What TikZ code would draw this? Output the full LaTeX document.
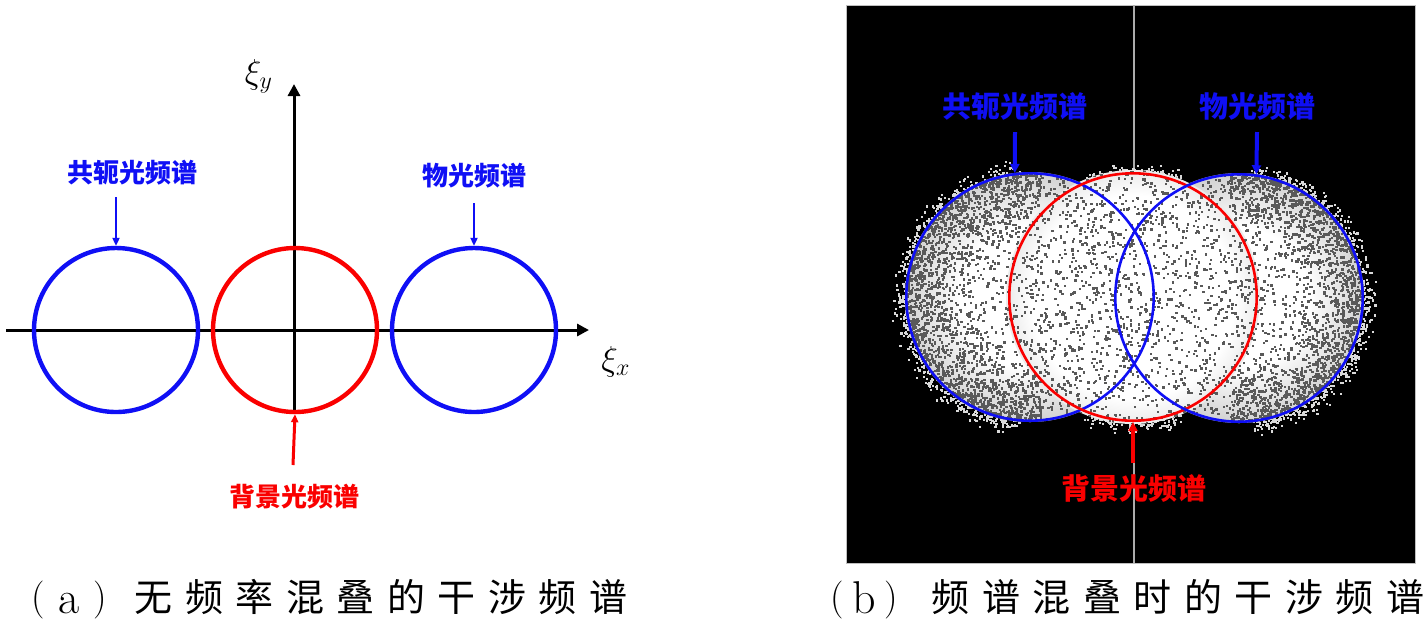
\documentclass[tikz,border=0pt]{standalone}
\usepackage{fontspec}
\newfontfamily\cjk{Noto Sans CJK SC}
\usetikzlibrary{arrows.meta}
\definecolor{myblue}{RGB}{15,15,245}
\definecolor{myred}{RGB}{250,0,0}
\pgfdeclareradialshading{specks}{\pgfpoint{0bp}{0bp}}{color(0bp)=(white); color(14bp)=(white); color(25bp)=(white!82!black); color(50bp)=(white!82!black)}
\pgfdeclareradialshading{speckc}{\pgfpoint{0bp}{0bp}}{color(0bp)=(white); color(20bp)=(white); color(25bp)=(white!92!black); color(50bp)=(white!92!black)}
\newcommand\spcx[1]{\ifx#1\relax\else\makebox[25.25pt]{#1}\expandafter\spcx\fi}
\tikzset{
  axisline/.style={line width=1.5pt, -{Triangle[length=6pt,width=6pt]}},
  lring/.style={circle, draw=#1, line width=2.2pt, minimum size=82pt, inner sep=0pt},
  rring/.style={circle, draw=#1, line width=1.3pt, minimum size=123.7pt, inner sep=0pt},
  larr/.style={draw=#1, line width=1.1pt, -{Triangle[length=4pt,width=3.5pt]}},
  rarr/.style={draw=#1, line width=2pt, -{Triangle[length=4.5pt,width=4.5pt]}},
  llab/.style={text=#1, font=\cjk\bfseries\fontsize{13pt}{14pt}\selectfont, inner sep=0pt},
  rlab/.style={text=#1, font=\cjk\bfseries\fontsize{14.5pt}{15pt}\selectfont, inner sep=0pt},
  captxt/.style={font=\cjk\fontsize{19pt}{20pt}\selectfont, inner sep=0pt},
  capltr/.style={font=\fontsize{19pt}{21pt}\selectfont, inner sep=0pt},
  capab/.style={font=\fontsize{23pt}{25pt}\selectfont, inner sep=0pt},
  xil/.style={font=\fontsize{18pt}{20pt}\selectfont, inner sep=0pt},
  speck/.style={fill=black!65},
  halo/.style={fill=white!85!black},
}
\begin{document}
\begin{tikzpicture}[x=0.5pt,y=-0.5pt]
\useasboundingbox (0,0) rectangle (1425,629);
\fill[white] (0,0) rectangle (1425,629);

% ---------- left panel ----------
\coordinate (xl) at (6,330);
\coordinate (xr) at (589,330);
\coordinate (yb) at (294,414);
\coordinate (yt) at (294,84);
\draw[axisline] (xl) -- (xr);
\draw[axisline] (yb) -- (yt);
\node[lring=myblue] (lc1) at (116,330) {};
\node[lring=myred] (lc2) at (295,330) {};
\node[lring=myblue] (lc3) at (474,330) {};
\node[llab=myblue] (ll1) at (133,173) {共轭光频谱};
\node[llab=myblue] (ll3) at (474,176) {物光频谱};
\node[llab=myred] (ll2) at (294,497) {背景光频谱};
\coordinate (la1) at (116,197);
\coordinate (la3) at (474,203);
\coordinate (la2) at (293,465);
\draw[larr=myblue] (la1) -- (lc1.north);
\draw[larr=myblue] (la3) -- (lc3.north);
\draw[larr=myred, line width=1.5pt] (la2) -- (lc2.south);
\node[xil] (xiy) at (259,76) {$\xi_y$};
\node[xil] (xix) at (616,362) {$\xi_x$};

% ---------- right panel ----------
\fill[black, draw=gray!50, line width=0.5pt] (846,5) rectangle (1415,563);
\coordinate (vt) at (1134,5);
\coordinate (vb) at (1134,563);
\draw[gray!65, line width=0.8pt] (vt) -- (vb);

\pgfmathsetseed{3}
% fuzzy halo outside the spectra
\foreach \i in {1,...,750}{
  \pgfmathsetmacro\ang{95+170*rnd}
  \pgfmathsetmacro\rad{121+19*rnd*rnd}
  \fill[halo] ({1030+\rad*cos(\ang)},{297+\rad*sin(\ang)}) rectangle ++(2.2,2.2);
}
\foreach \i in {1,...,750}{
  \pgfmathsetmacro\ang{-85+170*rnd}
  \pgfmathsetmacro\rad{121+19*rnd*rnd}
  \fill[halo] ({1239+\rad*cos(\ang)},{298+\rad*sin(\ang)}) rectangle ++(2.2,2.2);
}
\foreach \i in {1,...,280}{
  \pgfmathsetmacro\ang{(rnd<0.5 ? 68+44*rnd : 248+44*rnd)}
  \pgfmathsetmacro\rad{123+15*rnd*rnd}
  \fill[halo] ({1133+\rad*cos(\ang)},{297+\rad*sin(\ang)}) rectangle ++(2.2,2.2);
}

\begin{scope}
  \clip (1030,297) circle[radius=62.5pt] (1133,297) circle[radius=63.5pt] (1239,298) circle[radius=62.5pt];
  \shade[shading=specks] (1030,297) circle[radius=62.5pt];
  \shade[shading=specks] (1239,298) circle[radius=62.5pt];
  \shade[shading=speckc] (1133,297) circle[radius=63.5pt];
  % uniform speckle
  \foreach \i in {1,...,3300}{
    \pgfmathsetmacro\px{900+470*rnd}
    \pgfmathsetmacro\py{168+262*rnd}
    \fill[speck] (\px,\py) rectangle ++(2.4,2.4);
  }
  % denser speckle towards the outer rims
  \foreach \i in {1,...,1600}{
    \pgfmathsetmacro\ang{85+190*rnd}
    \pgfmathsetmacro\rad{126*(1-0.55*rnd*rnd)}
    \fill[speck] ({1030+\rad*cos(\ang)},{297+\rad*sin(\ang)}) rectangle ++(2.4,2.4);
  }
  \foreach \i in {1,...,1600}{
    \pgfmathsetmacro\ang{-95+190*rnd}
    \pgfmathsetmacro\rad{126*(1-0.55*rnd*rnd)}
    \fill[speck] ({1239+\rad*cos(\ang)},{298+\rad*sin(\ang)}) rectangle ++(2.4,2.4);
  }
\end{scope}

\node[rring=myblue] (rc1) at (1030,297) {};
\node[rring=myred] (rc2) at (1133,297) {};
\node[rring=myblue] (rc3) at (1239,298) {};
\node[rlab=myblue] (rl1) at (1015,106) {共轭光频谱};
\node[rlab=myblue] (rl3) at (1257,106) {物光频谱};
\node[rlab=myred] (rl2) at (1134,488) {背景光频谱};
\coordinate (ra1) at (1015,132);
\coordinate (ra3) at (1257,132);
\coordinate (ra2) at (1133,463);
\draw[rarr=myblue] (ra1) -- (rc1.97);
\draw[rarr=myblue] (ra3) -- (rc3.82);
\draw[rarr=myred] (ra2) -- (rc2.south);

% ---------- captions ----------
\node[capltr, anchor=base] (ca1) at (38,609) {(};
\node[capab, anchor=base] (ca2) at (69,613) {a};
\node[capltr, anchor=base] (ca3) at (100,609) {)};
\node[captxt, anchor=base west] (ca4) at (128,611) {\spcx 无频率混叠的干涉频谱\relax};
\node[capltr, anchor=base] (cb1) at (837,609) {(};
\node[capab, anchor=base] (cb2) at (864,613) {b};
\node[capltr, anchor=base] (cb3) at (891,609) {)};
\node[captxt, anchor=base west] (cb4) at (925,611) {\spcx 频谱混叠时的干涉频谱\relax};
\end{tikzpicture}
\end{document}
